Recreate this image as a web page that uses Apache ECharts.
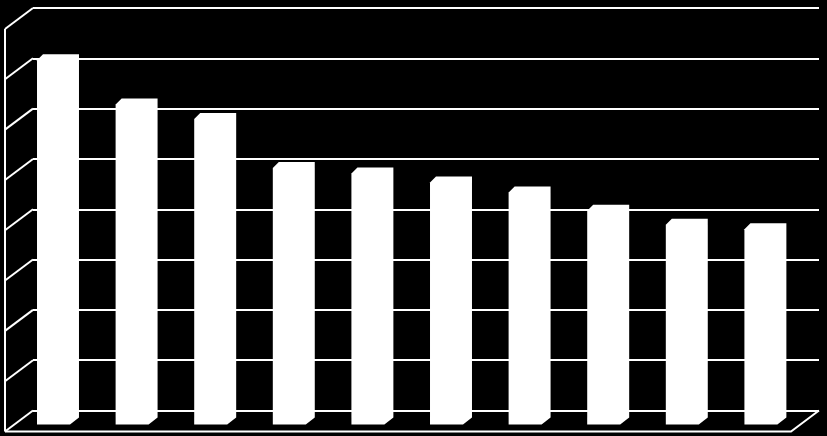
<!DOCTYPE html>
<html>
<head>
<meta charset="utf-8">
<script src="https://cdn.jsdelivr.net/npm/echarts@6/dist/echarts.min.js"></script>
<style>
html,body{margin:0;padding:0;background:#000;}
#chart{width:827px;height:436px;}
</style>
</head>
<body>
<div id="chart"></div>
<script>
// Data (no labels in the reference)
var categories = ['1','2','3','4','5','6','7','8','9','10'];
var values = [7.22, 6.34, 6.05, 5.08, 4.97, 4.79, 4.59, 4.23, 3.95, 3.86];
var gridTicks = [0, 1, 2, 3, 4, 5, 6, 7, 8];

var chart = echarts.init(document.getElementById('chart'));
var LINE = '#ffffff';
var DEPTH_X = 28, DEPTH_Y = 21;

var option = {
  backgroundColor: '#000000',
  animation: false,
  grid: { left: 33, right: 8, top: 8, bottom: 25.5 },
  xAxis: {
    type: 'category',
    data: categories,
    axisLine: { show: false },
    axisTick: { show: false },
    axisLabel: { show: false },
    splitLine: { show: false }
  },
  yAxis: {
    type: 'value',
    min: 0, max: 8, interval: 1,
    axisLine: { show: false },
    axisTick: { show: false },
    axisLabel: { show: false },
    splitLine: { show: true, lineStyle: { color: LINE, width: 2 } }
  },
  series: [
    {
      // side wall diagonals + floor outline, positioned from the value scale
      type: 'custom',
      data: gridTicks,
      clip: false,
      silent: true,
      renderItem: function (params, api) {
        var v = api.value(0);
        var cs = params.coordSys;
        var y = api.coord([0, v])[1];
        var x0 = cs.x;
        var children = [{
          type: 'line',
          shape: { x1: x0, y1: y, x2: x0 - DEPTH_X, y2: y + DEPTH_Y },
          style: { stroke: LINE, lineWidth: 2 }
        }];
        if (v === 0) {
          var yTop = api.coord([0, 8])[1];
          var xr = cs.x + cs.width;
          children.push({
            type: 'line',
            shape: { x1: x0 - DEPTH_X, y1: yTop + DEPTH_Y, x2: x0 - DEPTH_X, y2: y + DEPTH_Y },
            style: { stroke: LINE, lineWidth: 2 }
          });
          children.push({
            type: 'polyline',
            shape: { points: [[x0 - DEPTH_X, y + DEPTH_Y], [xr - DEPTH_X, y + DEPTH_Y], [xr, y]] },
            style: { stroke: LINE, lineWidth: 2, fill: null }
          });
        }
        return { type: 'group', children: children };
      }
    },
    {
      type: 'custom',
      data: values.map(function (v, i) { return [i, v]; }),
      clip: false,
      renderItem: function (params, api) {
        var i = api.value(0), v = api.value(1);
        var top = api.coord([i, v]);
        var base = api.coord([i, 0]);
        var bw = api.size([1, 0])[0];
        var cx = top[0] - bw * 0.182;
        var hw = bw * 0.267;
        var L = cx - hw, R = cx + hw;
        var T = top[1] + 7, B = base[1] + 14;
        return {
          type: 'polygon',
          shape: { points: [[L, T + 6], [L + 6, T], [R, T], [R, B - 7], [R - 9, B], [L, B]] },
          style: { fill: '#ffffff', stroke: null }
        };
      }
    }
  ]
};
chart.setOption(option);
</script>
</body>
</html>
